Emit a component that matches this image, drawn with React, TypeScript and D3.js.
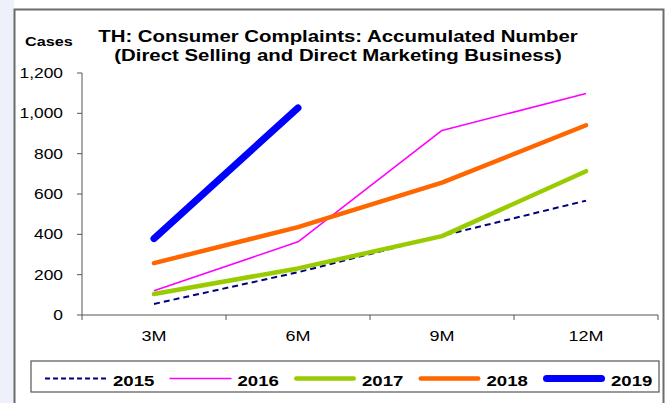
import React from "react";
import * as d3 from "d3";

const categories = ["3M", "6M", "9M", "12M"];
const yTicks = [0, 200, 400, 600, 800, 1000, 1200];
const seriesNames = ["2015", "2016", "2017", "2018", "2019"];
const values2015 = [55, 212, 393, 567];
const values2016 = [120, 363, 915, 1098];
const values2017 = [104, 231, 391, 713];
const values2018 = [257, 436, 656, 941];
const values2019 = [379, 1027];
const seriesColors = ["#000080", "#FF00FF", "#99CC00", "#FF6600", "#0000FF"];

const W = 672;
const H = 403;
const FONT = "Arial, 'Liberation Sans', sans-serif";
const SX = 1.2;

type ST = {
  x: number;
  y: number;
  size: number;
  bold?: boolean;
  anchor?: "start" | "middle" | "end";
  children: React.ReactNode;
};
function SText({ x, y, size, bold, anchor = "start", children }: ST) {
  return (
    <text
      transform={`translate(${x},${y}) scale(${SX},1)`}
      fontFamily={FONT}
      fontSize={size}
      fontWeight={bold ? "bold" : "normal"}
      textAnchor={anchor}
      fill="#000"
    >
      {children}
    </text>
  );
}

export default function App() {
  const x = d3.scaleBand<string>().domain(categories).range([82, 658]).padding(0);
  const y = d3.scaleLinear().domain([0, 1200]).range([315, 73]);
  const cx = (c: string) => (x(c) as number) + x.bandwidth() / 2;

  const all = [values2015, values2016, values2017, values2018, values2019];
  const styles = [
    { w: 2, dash: "6,4", cap: "butt" },
    { w: 1.6, dash: undefined, cap: "butt" },
    { w: 4.5, dash: undefined, cap: "round" },
    { w: 4.5, dash: undefined, cap: "round" },
    { w: 7, dash: undefined, cap: "round" },
  ];
  const line = d3
    .line<number>()
    .x((_, i) => cx(categories[i]))
    .y((d) => y(d));

  const legendX0 = 45;
  const legendStep = 124.5;

  return (
    <svg
      width={W}
      height={H}
      style={{ position: "absolute", left: 0, top: 0, background: "#fff" }}
    >
      <rect x={0} y={0} width={W} height={H} fill="#fff" />
      <rect x={0} y={0} width={14} height={H} fill="#EEF1FA" />
      <rect x={14.5} y={9.5} width={649} height={H} fill="#fff" stroke="#6b6b6b" strokeWidth={2} />

      {/* Titles */}
      <SText x={25} y={46} size={13.5} bold>
        Cases
      </SText>
      <SText x={338} y={42} size={17} bold anchor="middle">
        TH: Consumer Complaints: Accumulated Number
      </SText>
      <SText x={338} y={61} size={17} bold anchor="middle">
        (Direct Selling and Direct Marketing Business)
      </SText>

      {/* Y axis */}
      <line x1={82} x2={82} y1={y(1200)} y2={y(0)} stroke="#555" strokeWidth={1} />
      {yTicks.map((t) => (
        <g key={t}>
          <line x1={77} x2={82} y1={y(t)} y2={y(t)} stroke="#555" strokeWidth={1} />
          <SText x={63} y={y(t) + 5} size={14.5} anchor="end">
            {d3.format(",")(t)}
          </SText>
        </g>
      ))}

      {/* X axis */}
      <line x1={82} x2={658} y1={y(0)} y2={y(0)} stroke="#555" strokeWidth={1} />
      {[...categories.map((c) => x(c) as number), 658].map((p, i) => (
        <line key={i} x1={p} x2={p} y1={y(0)} y2={y(0) + 5} stroke="#555" strokeWidth={1} />
      ))}
      {categories.map((c) => (
        <SText key={c} x={cx(c)} y={341} size={15} anchor="middle">
          {c}
        </SText>
      ))}

      {/* Series */}
      {all.map((vals, i) => (
        <path
          key={seriesNames[i]}
          d={line(vals) as string}
          fill="none"
          stroke={seriesColors[i]}
          strokeWidth={styles[i].w}
          strokeDasharray={styles[i].dash}
          strokeLinecap={styles[i].cap as any}
          strokeLinejoin="round"
        />
      ))}

      {/* Legend */}
      <rect x={31} y={361} width={628} height={31} fill="#fff" stroke="#555" strokeWidth={1.2} />
      {seriesNames.map((s, i) => {
        const lx = legendX0 + i * legendStep;
        const st = styles[i];
        return (
          <g key={s}>
            <line
              x1={lx + (st.cap === "round" ? st.w / 2 : 0)}
              x2={lx + 62 - (st.cap === "round" ? st.w / 2 : 0)}
              y1={378.5}
              y2={378.5}
              stroke={seriesColors[i]}
              strokeWidth={st.w}
              strokeDasharray={st.dash ? "5,3" : undefined}
              strokeLinecap={st.cap as any}
            />
            <SText x={lx + 68} y={385.5} size={15.5} bold>
              {s}
            </SText>
          </g>
        );
      })}
    </svg>
  );
}
